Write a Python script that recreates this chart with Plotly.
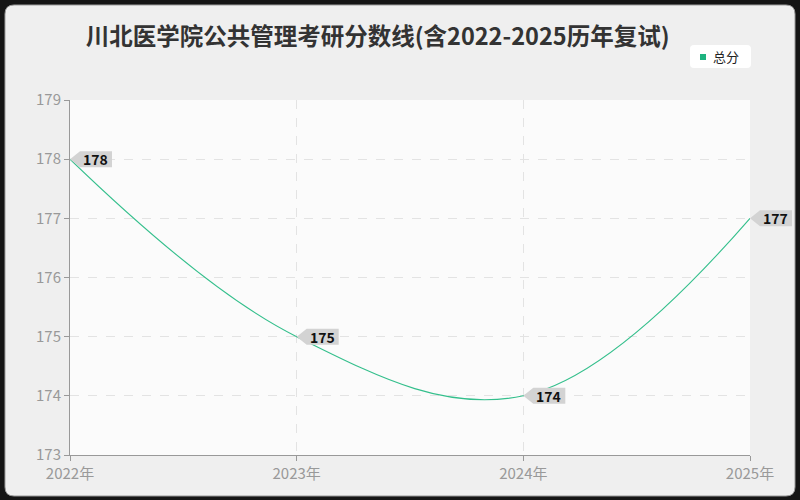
import plotly.graph_objects as go

# data
years = [2022, 2023, 2024, 2025]
year_labels = ["2022年", "2023年", "2024年", "2025年"]
scores = [178, 175, 174, 177]
y_ticks = [173, 174, 175, 176, 177, 178, 179]
series_name = "总分"

W, H = 800, 500
ML, MR, MT, MB = 70, 50, 100, 45
PW, PH = W - ML - MR, H - MT - MB


def px(x):
    return (x - ML) / PW


def py(y):
    return (H - MB - y) / PH


def P(x, y):
    return "%.5f,%.5f" % (px(x), py(y))


def rounded(x0, y0, x1, y1, r):
    return ("M" + P(x0 + r, y0) + " Q" + P(x0, y0) + " " + P(x0, y0 + r) +
            " L" + P(x0, y1 - r) + " Q" + P(x0, y1) + " " + P(x0 + r, y1) +
            " L" + P(x1 - r, y1) + " Q" + P(x1, y1) + " " + P(x1, y1 - r) +
            " L" + P(x1, y0 + r) + " Q" + P(x1, y0) + " " + P(x1 - r, y0) + " Z")


green = "#34bf8c"
cjk = "Noto Sans CJK SC"

fig = go.Figure()

fig.add_trace(go.Scatter(
    x=years, y=scores, mode="lines",
    line=dict(color=green, width=1.1, shape="spline", smoothing=1.1),
    showlegend=False, hoverinfo="skip"
))

shapes = []
annotations = []

# value callouts
for yr, v in zip(years, scores):
    shapes.append(dict(
        type="path", xref="paper", yref="y",
        xsizemode="pixel", ysizemode="pixel",
        xanchor=(yr - years[0]) / (years[-1] - years[0]), yanchor=v,
        path="M0,0 L10,8 L42,8 L42,-8 L10,-8 Z",
        fillcolor="#d3d3d3", line=dict(width=0), layer="above"
    ))
    annotations.append(dict(
        x=yr, y=v, xref="x", yref="y", text="<b>%d</b>" % v,
        showarrow=False, xanchor="left", yanchor="middle", xshift=11,
        font=dict(family=cjk, size=14, color="#111")
    ))

# legend box (drawn by hand)
shapes.append(dict(type="path", xref="paper", yref="paper", path=rounded(690, 45, 751, 68, 4),
                   fillcolor="#ffffff", line=dict(width=0), layer="above"))
shapes.append(dict(type="rect", xref="paper", yref="paper",
                   x0=px(700), x1=px(706), y0=py(60), y1=py(54),
                   fillcolor="#1db37f", line=dict(width=0), layer="above"))
annotations.append(dict(x=px(711), y=py(56.5), xref="paper", yref="paper", text=series_name,
                        showarrow=False, xanchor="left", yanchor="middle",
                        font=dict(family=cjk, size=13, color="#222")))

# outer frame with rounded corners
r = 9
ox0, oy0, ox1, oy1 = 5, 5, 795, 496
frame = ("M" + P(0, 0) + " L" + P(W, 0) + " L" + P(W, H) + " L" + P(0, H) + " Z " +
         rounded(ox0, oy0, ox1, oy1, r))
shapes.append(dict(type="path", xref="paper", yref="paper", path=frame,
                   fillcolor="#151515", line=dict(width=0), layer="above"))
shapes.append(dict(type="path", xref="paper", yref="paper", path=rounded(ox0, oy0, ox1, oy1, r),
                   line=dict(color="#9a9a9a", width=1), layer="above"))

fig.update_layout(
    width=W, height=H,
    margin=dict(l=ML, r=MR, t=MT, b=MB, autoexpand=False),
    paper_bgcolor="#efefef",
    plot_bgcolor="#fbfbfb",
    title=dict(text="<b>川北医学院公共管理考研分数线(含2022-2025历年复试)</b>",
               x=0.472, xanchor="center", y=0.926, yanchor="middle",
               font=dict(family=cjk, size=23.5, color="#333")),
    showlegend=False,
    xaxis=dict(range=[years[0], years[-1]], tickvals=years, ticktext=year_labels,
               showgrid=True, gridcolor="#e3e3e3", griddash="dash", gridwidth=1,
               showline=True, linecolor="#999", linewidth=1,
               ticks="outside", ticklen=5, tickcolor="#999",
               tickfont=dict(family=cjk, size=15, color="#999"), zeroline=False),
    yaxis=dict(range=[y_ticks[0], y_ticks[-1]], tickvals=y_ticks,
               showgrid=True, gridcolor="#e3e3e3", griddash="dash", gridwidth=1,
               showline=True, linecolor="#999", linewidth=1,
               ticks="outside", ticklen=5, tickcolor="#999",
               tickfont=dict(family=cjk, size=15, color="#999"), zeroline=False),
    shapes=shapes,
    annotations=annotations,
)

# drop the default page margin so the figure sits at the window origin
fig.write_html("out.html", config={"displayModeBar": False},
               post_script="document.body.style.margin='0';")
